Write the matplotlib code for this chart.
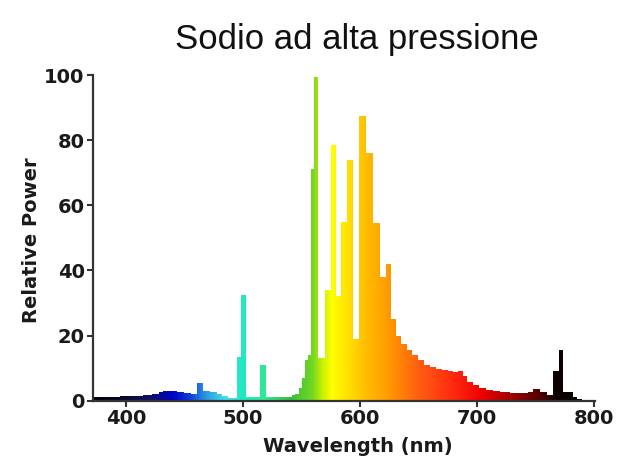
import numpy as np
import matplotlib
matplotlib.use("Agg")
import matplotlib.pyplot as plt
from matplotlib.colors import LinearSegmentedColormap, Normalize

# ---- data ----
wavelength_edges = [373, 385, 395, 405, 415, 422, 428, 432, 438, 444, 450, 456, 461, 466,
                    472, 478, 482, 487, 495, 498.5, 503, 508, 515, 520, 528, 536, 542, 545,
                    548, 551, 553, 556, 558, 561, 564, 570, 575, 579.5, 584, 589, 594, 599,
                    605, 611, 617, 622, 627, 631, 635, 640, 645, 650, 655, 660, 665, 670,
                    675, 680, 684, 688, 692, 697, 702, 708, 714, 720, 728, 736, 744, 748,
                    754, 760, 765, 770, 774, 782, 786, 790]
relative_power = [1.0, 1.2, 1.3, 1.5, 1.8, 2.2, 2.8, 3.1, 3.0, 2.7, 2.4, 2.2, 5.3,
                  3.0, 2.6, 2.0, 1.3, 0.9, 13.5, 32.5, 1.2, 1.0, 11.0, 1.2, 1.0, 1.2,
                  1.6, 2.0, 4.0, 7.0, 12.5, 14.0, 71.0, 99.5, 13.0, 34.0, 78.5, 32.0,
                  55.0, 74.0, 19.0, 87.5, 76.0, 54.5, 38.0, 42.0, 25.0, 20.0, 17.5,
                  15.5, 14.0, 12.5, 11.0, 10.2, 9.7, 9.3, 9.0, 8.8, 9.2, 7.5, 5.8,
                  4.8, 3.9, 3.3, 2.9, 2.6, 2.4, 2.3, 2.6, 3.5, 2.6, 1.9, 9.0, 15.6,
                  2.8, 1.2, 0.4]

x_ticks = [400, 500, 600, 700, 800]
y_ticks = [0, 20, 40, 60, 80, 100]

# spectrum colour anchors (wavelength, colour)
spec_wl = [373, 400, 420, 440, 455, 468, 485, 500, 520, 540, 560, 568, 576, 590,
           605, 625, 650, 680, 705, 730, 755, 768, 801]
spec_col = ['#000008', '#0a0a30', '#10106a', '#0000c8', '#1040e0', '#2c98e0',
            '#40e0f0', '#20e8c0', '#30e890', '#30c040', '#74d820', '#c8f000',
            '#ffff00', '#ffe000', '#ffbe00', '#ff9a00', '#ff6010', '#ff2a10',
            '#f00000', '#a00000', '#500000', '#100000', '#000000']

x_min, x_max = 372, 801

fig = plt.figure(figsize=(6.31, 4.68), dpi=100)
ax = fig.add_axes([93 / 631, 67.3 / 468, 502 / 631, 325.7 / 468])

pos = [(w - x_min) / (x_max - x_min) for w in spec_wl]
pos[0] = 0.0
pos[-1] = 1.0
cmap = LinearSegmentedColormap.from_list("spec", list(zip(pos, spec_col)))

patch = ax.stairs(relative_power, wavelength_edges, fill=True, color='none',
                  linewidth=0)
grad = np.linspace(x_min, x_max, 1000).reshape(1, -1)
im = ax.imshow(grad, extent=[x_min, x_max, 0, 100], aspect='auto', cmap=cmap,
               norm=Normalize(x_min, x_max), origin='lower', interpolation='bilinear')
im.set_clip_path(patch)

ax.set_xlim(x_min, x_max)
ax.set_ylim(0, 100)
ax.set_xticks(x_ticks)
ax.set_yticks(y_ticks)

for s in ['top', 'right']:
    ax.spines[s].set_visible(False)
for s in ['left', 'bottom']:
    ax.spines[s].set_color('#333333')
    ax.spines[s].set_linewidth(1.6)

ax.tick_params(direction='out', length=4, width=1.5, color='#333333',
               labelsize=14, pad=2, labelcolor='#1a1a1a')
for lab in ax.get_xticklabels() + ax.get_yticklabels():
    lab.set_fontweight('bold')
    lab.set_family('DejaVu Sans')

fig.text(32 / 631, 1 - 240 / 468, 'Relative Power', rotation=90, ha='center',
         va='center', fontsize=14, fontweight='bold', color='#1a1a1a')
fig.text(358 / 631, 1 - 447 / 468, 'Wavelength (nm)', ha='center', va='center',
         fontsize=14, fontweight='bold', color='#1a1a1a')
fig.text(357 / 631, 1 - 39 / 468, 'Sodio ad alta pressione', ha='center',
         va='center', fontsize=25, family='Liberation Sans', color='#111111')

fig.savefig('out.png', dpi=100)
